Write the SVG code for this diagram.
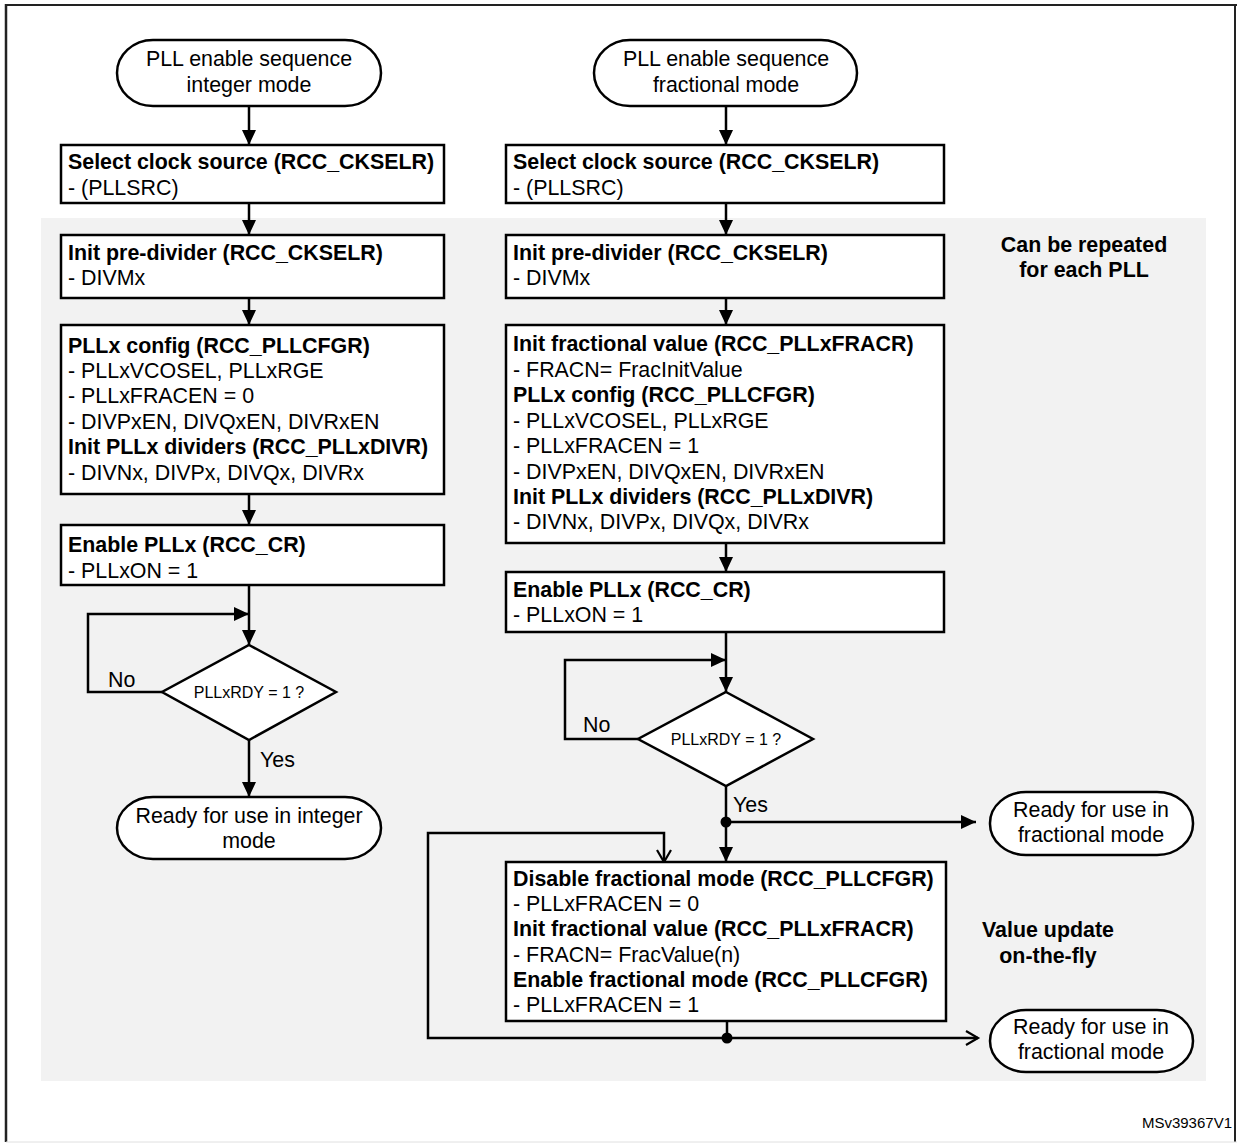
<svg xmlns="http://www.w3.org/2000/svg" width="1237" height="1143" viewBox="0 0 1237 1143">
<defs>
<style>
text{font-family:"Liberation Sans",Arial,sans-serif;font-size:21.4px;fill:#000}
.b{font-weight:bold}
.c{text-anchor:middle}
.s{font-size:16px}
.m{font-size:15px}
.box{fill:#fff;stroke:#000;stroke-width:2.5}
.ln{fill:none;stroke:#000;stroke-width:2.5}
</style>
<marker id="ah" markerUnits="userSpaceOnUse" markerWidth="16" markerHeight="14" refX="15" refY="7" orient="auto">
<path d="M0,0 L15,7 L0,14 z" fill="#000"/>
</marker>
<marker id="oa" markerUnits="userSpaceOnUse" markerWidth="16" markerHeight="16" refX="13" refY="8" orient="auto">
<path d="M1,1 L13,8 L1,15" fill="none" stroke="#000" stroke-width="2.2"/>
</marker>
</defs>
<rect x="0" y="0" width="1237" height="1143" fill="#fff"/>
<g id="frame">
<line x1="6" y1="5" x2="1237" y2="5" stroke="#222" stroke-width="2"/>
<line x1="6" y1="4" x2="6" y2="1142" stroke="#222" stroke-width="2.5"/>
<line x1="1235" y1="4" x2="1235" y2="1142" stroke="#222" stroke-width="2"/>
<line x1="6" y1="1142" x2="1237" y2="1142" stroke="#e0e0e0" stroke-width="1"/>
</g>
<rect id="repeat-area" x="41" y="218" width="1165" height="863" fill="#f2f2f2"/>

<g id="connectors">
<path class="ln" d="M249,106 V145" marker-end="url(#ah)"/>
<path class="ln" d="M249,203 V235" marker-end="url(#ah)"/>
<path class="ln" d="M249,298 V325" marker-end="url(#ah)"/>
<path class="ln" d="M249,494 V525" marker-end="url(#ah)"/>
<path class="ln" d="M249,585 V645" marker-end="url(#ah)"/>
<path class="ln" d="M162,692 H88 V614 H249" marker-end="url(#ah)"/>
<path class="ln" d="M249,740 V797" marker-end="url(#ah)"/>

<path class="ln" d="M726,106 V145" marker-end="url(#ah)"/>
<path class="ln" d="M726,203 V235" marker-end="url(#ah)"/>
<path class="ln" d="M726,298 V325" marker-end="url(#ah)"/>
<path class="ln" d="M726,543 V572" marker-end="url(#ah)"/>
<path class="ln" d="M726,632 V692" marker-end="url(#ah)"/>
<path class="ln" d="M638,739 H565 V660 H726" marker-end="url(#ah)"/>
<path class="ln" d="M726,786 V862" marker-end="url(#ah)"/>
<path class="ln" d="M726,822 H976" marker-end="url(#ah)"/>
<circle cx="726" cy="822" r="5.5" fill="#000"/>
<path class="ln" d="M727,1021 V1038"/>
<path class="ln" d="M727,1038 H978" marker-end="url(#oa)"/>
<path class="ln" d="M727,1038 H428 V833 H664 V862" marker-end="url(#oa)"/>
<circle cx="727" cy="1038" r="5.5" fill="#000"/>
</g>

<g id="start-integer">
<rect class="box" x="117" y="40" width="264" height="66" rx="36" ry="33"/>
<text class="c" x="249" y="66">PLL enable sequence</text>
<text class="c" x="249" y="92">integer mode</text>
</g>
<g id="select-src-int">
<rect class="box" x="61" y="145" width="383" height="58"/>
<text class="b" x="68" y="169">Select clock source (RCC_CKSELR)</text>
<text x="68" y="195">- (PLLSRC)</text>
</g>
<g id="predivider-int">
<rect class="box" x="61" y="235" width="383" height="63"/>
<text class="b" x="68" y="260">Init pre-divider (RCC_CKSELR)</text>
<text x="68" y="285">- DIVMx</text>
</g>
<g id="config-int">
<rect class="box" x="61" y="325" width="383" height="169"/>
<text class="b" x="68" y="353">PLLx config (RCC_PLLCFGR)</text>
<text x="68" y="378">- PLLxVCOSEL, PLLxRGE</text>
<text x="68" y="403">- PLLxFRACEN = 0</text>
<text x="68" y="429">- DIVPxEN, DIVQxEN, DIVRxEN</text>
<text class="b" x="68" y="454">Init PLLx dividers (RCC_PLLxDIVR)</text>
<text x="68" y="480">- DIVNx, DIVPx, DIVQx, DIVRx</text>
</g>
<g id="enable-int">
<rect class="box" x="61" y="525" width="383" height="60"/>
<text class="b" x="68" y="552">Enable PLLx (RCC_CR)</text>
<text x="68" y="578">- PLLxON = 1</text>
</g>
<g id="rdy-int">
<polygon class="box" points="249,645 336,692 249,740 162,692"/>
<text class="c s" x="249" y="698">PLLxRDY = 1 ?</text>
<text x="108" y="687">No</text>
<text x="260" y="767">Yes</text>
</g>
<g id="ready-int">
<rect class="box" x="117" y="797" width="264" height="62" rx="36" ry="31"/>
<text class="c" x="249" y="823">Ready for use in integer</text>
<text class="c" x="249" y="848">mode</text>
</g>

<g id="start-frac">
<rect class="box" x="594" y="40" width="263" height="66" rx="36" ry="33"/>
<text class="c" x="726" y="66">PLL enable sequence</text>
<text class="c" x="726" y="92">fractional mode</text>
</g>
<g id="select-src-frac">
<rect class="box" x="506" y="145" width="438" height="58"/>
<text class="b" x="513" y="169">Select clock source (RCC_CKSELR)</text>
<text x="513" y="195">- (PLLSRC)</text>
</g>
<g id="predivider-frac">
<rect class="box" x="506" y="235" width="438" height="63"/>
<text class="b" x="513" y="260">Init pre-divider (RCC_CKSELR)</text>
<text x="513" y="285">- DIVMx</text>
</g>
<g id="config-frac">
<rect class="box" x="506" y="325" width="438" height="218"/>
<text class="b" x="513" y="351">Init fractional value (RCC_PLLxFRACR)</text>
<text x="513" y="377">- FRACN= FracInitValue</text>
<text class="b" x="513" y="402">PLLx config (RCC_PLLCFGR)</text>
<text x="513" y="428">- PLLxVCOSEL, PLLxRGE</text>
<text x="513" y="453">- PLLxFRACEN = 1</text>
<text x="513" y="479">- DIVPxEN, DIVQxEN, DIVRxEN</text>
<text class="b" x="513" y="504">Init PLLx dividers (RCC_PLLxDIVR)</text>
<text x="513" y="529">- DIVNx, DIVPx, DIVQx, DIVRx</text>
</g>
<g id="enable-frac">
<rect class="box" x="506" y="572" width="438" height="60"/>
<text class="b" x="513" y="597">Enable PLLx (RCC_CR)</text>
<text x="513" y="622">- PLLxON = 1</text>
</g>
<g id="rdy-frac">
<polygon class="box" points="726,692 813,739 726,786 638,739"/>
<text class="c s" x="726" y="745">PLLxRDY = 1 ?</text>
<text x="583" y="732">No</text>
<text x="733" y="812">Yes</text>
</g>
<g id="ready-frac-1">
<rect class="box" x="990" y="792" width="203" height="63" rx="36" ry="31"/>
<text class="c" x="1091" y="817">Ready for use in</text>
<text class="c" x="1091" y="842">fractional mode</text>
</g>
<g id="update-frac">
<rect class="box" x="506" y="862" width="440" height="159"/>
<text class="b" x="513" y="886">Disable fractional mode (RCC_PLLCFGR)</text>
<text x="513" y="911">- PLLxFRACEN = 0</text>
<text class="b" x="513" y="936">Init fractional value (RCC_PLLxFRACR)</text>
<text x="513" y="962">- FRACN= FracValue(n)</text>
<text class="b" x="513" y="987">Enable fractional mode (RCC_PLLCFGR)</text>
<text x="513" y="1012">- PLLxFRACEN = 1</text>
</g>
<g id="ready-frac-2">
<rect class="box" x="990" y="1010" width="203" height="62" rx="36" ry="31"/>
<text class="c" x="1091" y="1034">Ready for use in</text>
<text class="c" x="1091" y="1059">fractional mode</text>
</g>

<g id="notes">
<text class="b c" x="1084" y="252">Can be repeated</text>
<text class="b c" x="1084" y="277">for each PLL</text>
<text class="b c" x="1048" y="937">Value update</text>
<text class="b c" x="1048" y="963">on-the-fly</text>
<text class="m" x="1232" y="1128" text-anchor="end">MSv39367V1</text>
</g>
</svg>
